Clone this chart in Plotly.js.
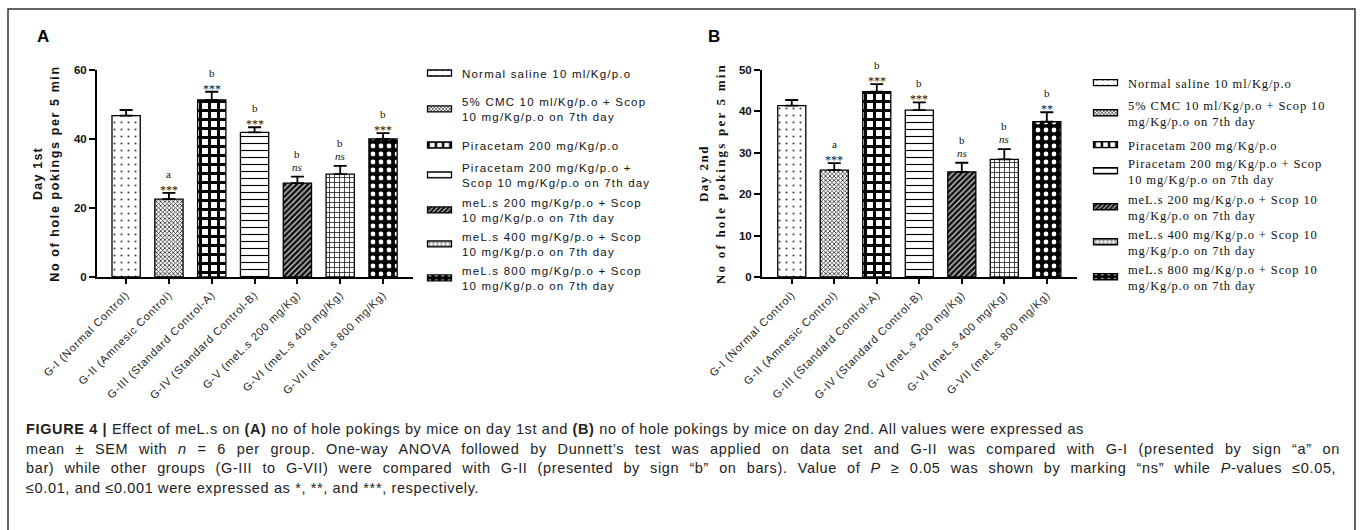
<!DOCTYPE html>
<html><head><meta charset="utf-8">
<script src="https://cdn.plot.ly/plotly-3.0.1.min.js"></script>
<style>html,body{margin:0;padding:0;background:#fff}</style>
</head><body><div id="chart" style="width:1360px;height:530px"></div>
<script>
// ---------- data ----------
const groups = ["G-I (Normal Control)", "G-II (Amnesic Control)", "G-III (Standard Control-A)", "G-IV (Standard Control-B)", "G-V (meL.s 200 mg/Kg)", "G-VI (meL.s 400 mg/Kg)", "G-VII (meL.s 800 mg/Kg)"];
const day1Mean = [46.8, 22.6, 51.3, 41.9, 27.2, 29.8, 40.0];
const day1Sem = [1.6, 1.8, 2.4, 1.5, 1.9, 2.4, 1.7];
const day2Mean = [41.4, 25.8, 44.8, 40.3, 25.4, 28.4, 37.5];
const day2Sem = [1.35, 1.7, 1.8, 1.9, 2.2, 2.5, 2.3];
const day1Letter = ["", "a", "b", "b", "b", "b", "b"];
const day1Sig = ["", "***", "***", "***", "ns", "ns", "***"];
const day2Letter = ["", "a", "b", "b", "b", "b", "b"];
const day2Sig = ["", "***", "***", "***", "ns", "ns", "**"];
const treatmentsA = ["Normal saline 10 ml/Kg/p.o", "5% CMC 10 ml/Kg/p.o + Scop<br>10 mg/Kg/p.o on 7th day", "Piracetam 200 mg/Kg/p.o", "Piracetam 200 mg/Kg/p.o +<br>Scop 10 mg/Kg/p.o on 7th day", "meL.s 200 mg/Kg/p.o + Scop<br>10 mg/Kg/p.o on 7th day", "meL.s 400 mg/Kg/p.o + Scop<br>10 mg/Kg/p.o on 7th day", "meL.s 800 mg/Kg/p.o + Scop<br>10 mg/Kg/p.o on 7th day"];
const treatmentsB = ["Normal saline 10 ml/Kg/p.o", "5% CMC 10 ml/Kg/p.o + Scop 10<br>mg/Kg/p.o on 7th day", "Piracetam 200 mg/Kg/p.o", "Piracetam 200 mg/Kg/p.o + Scop<br>10 mg/Kg/p.o on 7th day", "meL.s 200 mg/Kg/p.o + Scop 10<br>mg/Kg/p.o on 7th day", "meL.s 400 mg/Kg/p.o + Scop 10<br>mg/Kg/p.o on 7th day", "meL.s 800 mg/Kg/p.o + Scop 10<br>mg/Kg/p.o on 7th day"];
const yTicksA = [0, 20, 40, 60];
const yTicksB = [0, 10, 20, 30, 40, 50];
const captionLines = [
  "<b>FIGURE 4 |</b> Effect of meL.s on <b>(A)</b> no of hole pokings by mice on day 1st and <b>(B)</b> no of hole pokings by mice on day 2nd. All values were expressed as",
  "mean ± SEM with <i>n</i> = 6 per group. One-way ANOVA followed by Dunnett’s test was applied on data set and G-II was compared with G-I (presented by sign “a” on",
  "bar) while other groups (G-III to G-VII) were compared with G-II (presented by sign “b” on bars). Value of <i>P</i> ≥ 0.05 was shown by marking “ns” while <i>P</i>-values ≤0.05,",
  "≤0.01, and ≤0.001 were expressed as *, **, and ***, respectively."
];

// ---------- styles / layout ----------
const W = 1360, H = 530;
const px = v => v / W, py = v => 1 - v / H;
const SANS = "Liberation Sans, Arial, sans-serif";
const SERIF = "Liberation Serif, Times New Roman, serif";
const patterns = [
  {shape: ".", size: 7, solidity: 0.07, fgcolor: "#444", bgcolor: "#fff"},
  {shape: "x", size: 3, solidity: 0.45, fgcolor: "#222", bgcolor: "#fff"},
  {shape: "+", size: 9, solidity: 0.55, fgcolor: "#000", bgcolor: "#fff"},
  {shape: "-", size: 7, solidity: 0.16, fgcolor: "#000", bgcolor: "#fff"},
  {shape: "/", size: 4, solidity: 0.3, fgcolor: "#ddd", bgcolor: "#111"},
  {shape: "+", size: 5, solidity: 0.3, fgcolor: "#222", bgcolor: "#fff"},
  {shape: ".", size: 8, solidity: 0.28, fgcolor: "#fff", bgcolor: "#000"}
];
const legendRowsA = [73, 109, 145, 175, 210, 244, 278];
const legendRowsB = [83, 113, 145, 171, 207, 242, 277];
const ls = (t, s) => '<span style="letter-spacing:' + s + 'px">' + t + '</span>';
const legId = k => (k === 0 ? "legend" : "legend" + (k + 1));

const layout = {
  width: W, height: H, margin: {l: 0, r: 0, t: 0, b: 0}, paper_bgcolor: "#fff", plot_bgcolor: "rgba(0,0,0,0)",
  barmode: "overlay", showlegend: true
};

const traces = [];
function addPanel(means, sems, names, xa, ya, legOffset, rows, legX, legFont) {
  for (let i = 0; i < groups.length; i++) {
    const id = legId(legOffset + i);
    traces.push({
      type: "bar", x: [groups[i]], y: [means[i]], width: 0.66,
      xaxis: xa, yaxis: ya, legend: id, name: names[i],
      marker: {color: "#fff", line: {color: "#000", width: 1.3}, pattern: patterns[i]},
      error_y: {type: "data", symmetric: false, array: [sems[i]], arrayminus: [0], color: "#000", thickness: 1.8, width: 6.5},
      hoverinfo: "skip"
    });
    layout[id] = {x: px(legX), y: py(rows[i]), xanchor: "left", yanchor: "middle", bgcolor: "rgba(0,0,0,0)",
      itemwidth: 35, font: legFont, itemclick: false, itemdoubleclick: false};
  }
}
addPanel(day1Mean, day1Sem, treatmentsA.map(t => ls(t, 1.2)), "x", "y", 0, legendRowsA, 417, {family: SANS, size: 11.5, color: "#111"});
addPanel(day2Mean, day2Sem, treatmentsB.map(t => ls(t, 0.9)), "x2", "y2", 7, legendRowsB, 1083, {family: SERIF, size: 12.5, color: "#111"});

const annotations = [];
function addSig(means, sems, letters, sigs, xr, yr) {
  for (let i = 0; i < groups.length; i++) {
    if (!sigs[i]) continue;
    const top = means[i] + sems[i];
    const isNs = sigs[i] === "ns";
    annotations.push({xref: xr, yref: yr, x: groups[i], y: top, xanchor: "center", yanchor: "bottom", showarrow: false,
      text: isNs ? "<i>ns</i>" : sigs[i], yshift: isNs ? 2 : -6,
      font: {family: SERIF, size: isNs ? 11 : 12, color: "#111"}});
    annotations.push({xref: xr, yref: yr, x: groups[i], y: top, xanchor: "center", yanchor: "bottom", showarrow: false,
      text: letters[i], yshift: isNs ? 15 : 11, font: {family: SERIF, size: 11, color: "#111"}});
  }
}
addSig(day1Mean, day1Sem, day1Letter, day1Sig, "x", "y");
addSig(day2Mean, day2Sem, day2Letter, day2Sig, "x2", "y2");

annotations.push({xref: "paper", yref: "paper", x: px(43), y: py(37), xanchor: "center", yanchor: "middle", text: "<b>A</b>", showarrow: false, font: {family: SANS, size: 17, color: "#000"}});
annotations.push({xref: "paper", yref: "paper", x: px(714), y: py(37), xanchor: "center", yanchor: "middle", text: "<b>B</b>", showarrow: false, font: {family: SANS, size: 17, color: "#000"}});
const capY = [429, 448.5, 468, 487.5];
const capWordSpacing = [0, 6.1, 5.5, 0];
captionLines.forEach((t, k) => annotations.push({xref: "paper", yref: "paper", x: px(24), y: py(capY[k]), xanchor: "left", yanchor: "middle",
  text: '<span style="letter-spacing:0.63px;word-spacing:' + capWordSpacing[k] + 'px">' + t + '</span>',
  showarrow: false, font: {family: SANS, size: 14.5, color: "#222"}}));
layout.annotations = annotations;

function xAxis(d0, d1, range) {
  return {domain: [px(d0), px(d1)], range: range, type: "category", showline: true, linewidth: 2, linecolor: "#000",
    ticks: "outside", ticklen: 5, tickwidth: 2, tickcolor: "#000", tickangle: -45,
    tickvals: groups, ticktext: groups.map(g => ls(g, 0.8)),
    tickfont: {family: SANS, size: 11, color: "#222"}, showgrid: false, zeroline: false, fixedrange: true};
}
function yAxis(anchor, range, vals, title, tfont, standoff) {
  return {domain: [py(277), py(70)], range: range, anchor: anchor, tickvals: vals, showline: true, linewidth: 2, linecolor: "#000",
    ticks: "outside", ticklen: 6, tickwidth: 2, tickcolor: "#000", showgrid: false, zeroline: false, fixedrange: true,
    tickfont: {family: SANS, size: 11.5, color: "#111", weight: "bold"},
    title: {text: title, font: tfont, standoff: standoff}};
}
layout.xaxis = xAxis(97, 413, [-0.68, 6.7]);
layout.yaxis = yAxis("x", [0, 60], yTicksA, ls("Day 1st", 1.2) + "<br>" + ls("No of hole pokings per 5 min", 1.6),
  {family: SANS, size: 12.5, color: "#111", weight: "bold"}, 12);
layout.xaxis2 = xAxis(762, 1077, [-0.7, 6.71]);
layout.yaxis2 = yAxis("x2", [0, 50], yTicksB, ls("Day 2nd", 1.5) + "<br>" + ls("No of hole pokings per 5 min", 2.2),
  {family: SERIF, size: 13, color: "#111", weight: "bold"}, 10);
layout.shapes = [{type: "rect", xref: "paper", yref: "paper", x0: px(8), x1: px(1355), y0: -0.05, y1: py(9), line: {color: "#333", width: 1.5}}];

function widenSwatches() {
  document.querySelectorAll(".legendpoints path").forEach(p => p.setAttribute("d", "M12,3H-12V-3H12Z"));
}
Plotly.newPlot("chart", traces, layout, {staticPlot: true}).then(() => {
  widenSwatches();
  setTimeout(widenSwatches, 50);
});
</script></body></html>
